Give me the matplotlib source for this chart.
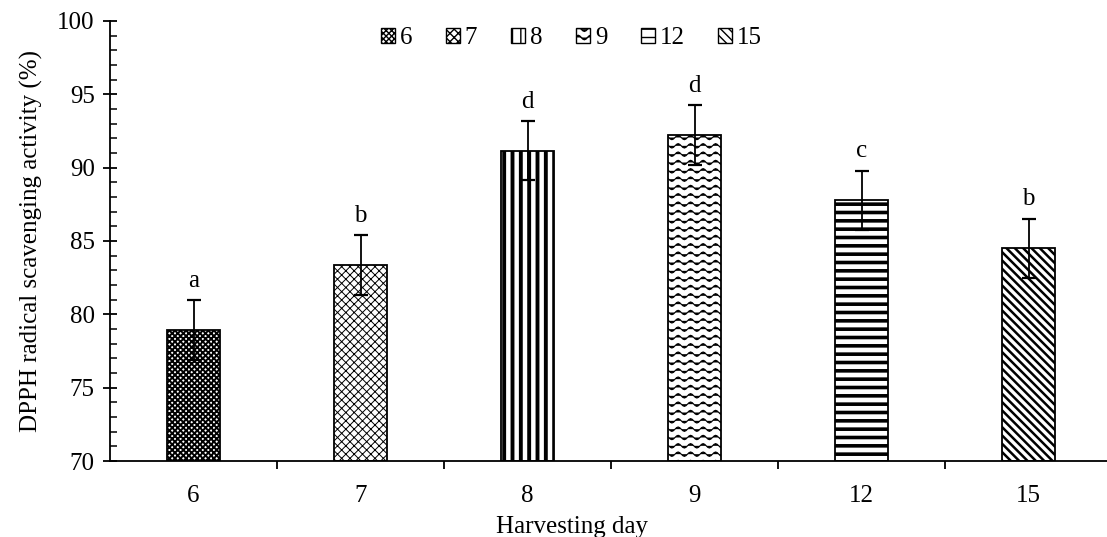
import numpy as np
import matplotlib
matplotlib.use('Agg')
import matplotlib.pyplot as plt
import matplotlib.hatch as mhatch
from matplotlib.path import Path
from matplotlib.patches import Patch
from matplotlib.ticker import MultipleLocator, FixedLocator, NullFormatter


# wavy hatch ('~'), not part of matplotlib's built-in set
class WaveHatch(mhatch.HatchPatternBase):
    n_pts = 65

    def __init__(self, hatch, density):
        self.num_lines = int(hatch.count('~') * density)
        self.num_vertices = self.num_lines * self.n_pts

    def set_vertices_and_codes(self, vertices, codes):
        steps, step = np.linspace(0.0, 1.0, self.num_lines, False, retstep=True)
        steps += step / 2.
        xs = np.linspace(0.0, 1.0, self.n_pts)
        wav = 0.022 * np.sin(2 * np.pi * 8 * xs)
        for i, s in enumerate(steps):
            sl = slice(i * self.n_pts, (i + 1) * self.n_pts)
            vertices[sl, 0] = xs
            vertices[sl, 1] = s + wav
            codes[sl] = Path.LINETO
            codes[i * self.n_pts] = Path.MOVETO


mhatch._hatch_types.append(WaveHatch)

plt.rcParams['font.family'] = ['Liberation Serif', 'DejaVu Serif']

days = ['6', '7', '8', '9', '12', '15']
activity = [78.93, 83.35, 91.15, 92.20, 87.78, 84.49]
err = [2.04, 2.05, 2.0, 2.04, 2.02, 2.04]
letters = ['a', 'b', 'd', 'd', 'c', 'b']

hatches = ['xxxxxx', 'xxxx', '||', '~~', '--', '\\\\\\\\']
hatch_lw = [1.4, 0.7, 2.8, 0.8, 2.6, 1.8]

fig = plt.figure(figsize=(11.07, 5.37), dpi=100)
ax = fig.add_axes([0.0994, 0.1415, 0.9006, 0.8195])

x = np.arange(len(days))
bars = ax.bar(x, np.array(activity) - 70, bottom=70, width=0.32,
              color='white', edgecolor='black', linewidth=1.3, zorder=2)
for b, h, lw in zip(bars, hatches, hatch_lw):
    b.set_hatch(h)
    if hasattr(b, 'set_hatch_linewidth'):
        b.set_hatch_linewidth(lw)

ax.errorbar(x, activity, yerr=err, fmt='none', ecolor='black',
            elinewidth=1.3, capsize=5, capthick=1.6, zorder=3)

for xi, v, e, lab in zip(x, activity, err, letters):
    ax.annotate(lab, (xi, v + e), xytext=(0, 6), textcoords='offset points',
                ha='center', va='bottom', fontsize=18)

ax.set_xlim(-0.5, 5.47)
ax.set_ylim(70, 100)

for s in ['top', 'right']:
    ax.spines[s].set_visible(False)
ax.spines['left'].set_linewidth(1.3)
ax.spines['bottom'].set_linewidth(1.3)

# y axis: crossing major ticks, inward minors
ax.yaxis.set_major_locator(MultipleLocator(5))
ax.yaxis.set_minor_locator(MultipleLocator(1))
ax.tick_params(axis='y', which='major', direction='inout', length=10, width=1.3,
               labelsize=18, pad=6)
ax.tick_params(axis='y', which='minor', direction='in', length=5, width=1.1)

# x axis: ticks between categories, labels at centres
ax.xaxis.set_major_locator(FixedLocator(x[:-1] + 0.5))
ax.xaxis.set_major_formatter(NullFormatter())
ax.xaxis.set_minor_locator(FixedLocator(x))
ax.set_xticks(x, days, minor=True)
ax.tick_params(axis='x', which='major', direction='out', length=6, width=1.3)
ax.tick_params(axis='x', which='minor', length=0, labelsize=18, pad=17)

ax.set_ylabel('DPPH radical scavenging activity (%)', fontsize=18, labelpad=10)
ax.set_xlabel('Harvesting day', fontsize=18, labelpad=6)
ax.xaxis.set_label_coords(0.463, -0.125)

handles = []
for h, lw in zip(hatches, hatch_lw):
    p = Patch(facecolor='white', edgecolor='black', hatch=h, linewidth=1.0)
    if hasattr(p, 'set_hatch_linewidth'):
        p.set_hatch_linewidth(lw)
    handles.append(p)
ax.legend(handles, days, loc='upper center', bbox_to_anchor=(0.463, 1.025),
          ncol=6, frameon=False, fontsize=18, handlelength=0.55, handleheight=0.55,
          handletextpad=0.2, columnspacing=1.35, borderpad=0.2)

fig.savefig('out.png', dpi=100)
